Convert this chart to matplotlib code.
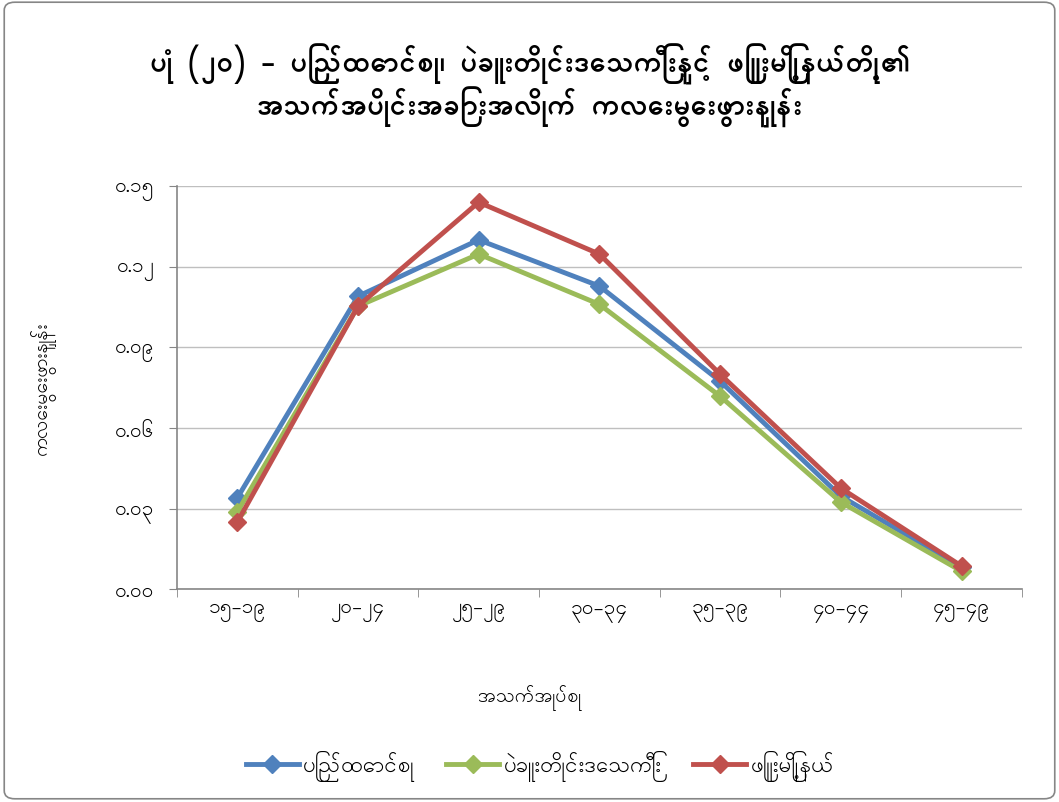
import numpy as np
import matplotlib
matplotlib.use("Agg")
import matplotlib.pyplot as plt
from matplotlib.patches import FancyBboxPatch

plt.rcParams['font.family'] = ['Padauk', 'Noto Sans Myanmar', 'DejaVu Sans']

# data
age_groups = ["၁၅-၁၉", "၂၀-၂၄", "၂၅-၂၉", "၃၀-၃၄", "၃၅-၃၉", "၄၀-၄၄", "၄၅-၄၉"]
union = [0.0339, 0.1090, 0.1300, 0.1128, 0.0774, 0.0346, 0.0082]
bago = [0.0287, 0.1053, 0.1247, 0.1060, 0.0718, 0.0324, 0.0067]
phyu = [0.0249, 0.1053, 0.1440, 0.1247, 0.0800, 0.0376, 0.0086]
series_names = ["ပြည်ထောင်စု", "ပဲခူးတိုင်းဒေသကြီး", "ဖြူးမြို့နယ်"]
colors = ["#4F81BD", "#9BBB59", "#C0504D"]
yticks = [0.0, 0.03, 0.06, 0.09, 0.12, 0.15]
ytick_labels = ["၀.၀၀", "၀.၀၃", "၀.၀၆", "၀.၀၉", "၀.၁၂", "၀.၁၅"]

title = "ပုံ (၂၀) - ပြည်ထောင်စု၊ ပဲခူးတိုင်းဒေသကြီးနှင့် ဖြူးမြို့နယ်တို့၏\nအသက်အပိုင်းအခြားအလိုက် ကလေးမွေးဖွားနှုန်း"
xlabel = "အသက်အုပ်စု"
ylabel = "ကလေးမွေးဖွားနှုန်း"

fig = plt.figure(figsize=(10.59, 8.03), dpi=100)
border = FancyBboxPatch((0.004, 0.004), 0.992, 0.992, boxstyle="round,pad=0,rounding_size=0.01",
                        transform=fig.transFigure, fill=False, edgecolor="#868686", linewidth=1.2)
fig.patches.append(border)

ax = fig.add_axes([0.167, 0.265, 0.798, 0.502])
x = np.arange(len(age_groups))
for vals, name, c in zip([union, bago, phyu], series_names, colors):
    ax.plot(x, vals, color=c, linewidth=3.5, marker="D", markersize=9, label=name)

ax.set_xlim(-0.5, len(age_groups) - 0.5)
ax.set_ylim(0, 0.15)
ax.set_yticks(yticks)
ax.set_yticklabels(ytick_labels, fontsize=15)
ax.set_xticks(x)
ax.set_xticklabels(age_groups, fontsize=15)
ax.tick_params(axis="x", length=0, pad=10)
ax.set_xticks(np.arange(-0.5, len(age_groups)), minor=True)
ax.tick_params(axis="x", which="minor", length=6, color="#868686")
ax.tick_params(axis="y", length=6, color="#868686", pad=10)
ax.grid(axis="y", color="#BFBFBF", linewidth=1)
ax.set_axisbelow(True)
for s in ["top", "right"]:
    ax.spines[s].set_visible(False)
for s in ["left", "bottom"]:
    ax.spines[s].set_color("#868686")
    ax.spines[s].set_linewidth(1.2)

fig.text(0.5, 0.893, title, ha="center", va="center", fontsize=21, fontweight="bold", linespacing=1.05)
fig.text(0.5, 0.132, xlabel, ha="center", va="center", fontsize=14)
fig.text(0.040, 0.516, ylabel, ha="center", va="center", fontsize=14, rotation=90)

fig.legend(loc="center", bbox_to_anchor=(0.51, 0.045), ncol=3, frameon=False, fontsize=16,
           handlelength=2.4, columnspacing=1.4, handletextpad=0.2)

fig.savefig("out.png")
